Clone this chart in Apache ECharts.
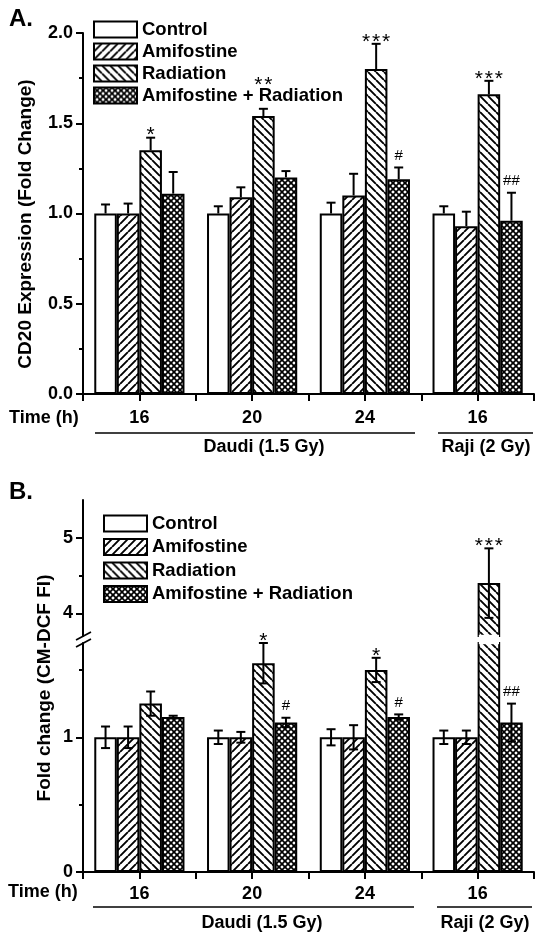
<!DOCTYPE html>
<html><head><meta charset="utf-8">
<script src="https://cdn.jsdelivr.net/npm/echarts@6/dist/echarts.min.js"></script>
<style>html,body{margin:0;padding:0;background:#fff}#c{width:542px;height:938px}</style>
</head><body><div id="c"></div>
<script>
const categories = ['16', '20', '24', '16'];
const seriesNames = ['Control', 'Amifostine', 'Radiation', 'Amifostine + Radiation'];

// Panel A: CD20 expression (fold change)
const aControl = [1.00, 1.00, 1.00, 1.00];
const aControlErr = [0.05, 0.04, 0.06, 0.04];
const aAmifostine = [1.00, 1.09, 1.10, 0.93];
const aAmifostineErr = [0.055, 0.055, 0.12, 0.08];
const aRadiation = [1.35, 1.54, 1.80, 1.66];
const aRadiationErr = [0.07, 0.04, 0.14, 0.075];
const aCombo = [1.11, 1.20, 1.19, 0.96];
const aComboErr = [0.12, 0.035, 0.065, 0.155];
const aRadiationSig = ['*', '**', '***', '***'];
const aComboSig = ['', '', '#', '##'];

// Panel B: fold change (CM-DCF FI)
const bControl = [1.00, 1.00, 1.00, 1.00];
const bControlErr = [0.08, 0.05, 0.06, 0.05];
const bAmifostine = [1.00, 1.00, 1.00, 1.00];
const bAmifostineErr = [0.08, 0.04, 0.09, 0.05];
const bRadiation = [1.25, 1.55, 1.50, 4.40];
const bRadiationErr = [0.09, 0.15, 0.09, 0.46];
const bCombo = [1.15, 1.11, 1.15, 1.11];
const bComboErr = [0.01, 0.035, 0.02, 0.14];
const bRadiationSig = ['', '*', '*', '***'];
const bComboSig = ['', '#', '#', '##'];

// axis tick values
const yTicksBLower = [0, 1];
const yMinorBLower = [0.5, 1.5];
const yTicksBUpper = [4, 5];
const yMinorBUpper = [4.5];
const bLowerMax = 1.7, bUpperMin = 3.7, bUpperMax = 5.5;

const FONT = '"Liberation Sans", Arial, Helvetica, sans-serif';

function hatch(kind) {
  const s = kind === 'cross' ? 6 : 8;
  const c = document.createElement('canvas'); c.width = s; c.height = s;
  const g = c.getContext('2d');
  g.fillStyle = '#fff'; g.fillRect(0, 0, s, s);
  g.strokeStyle = '#000'; g.lineWidth = kind === 'cross' ? 1.7 : 1.9;
  g.beginPath();
  if (kind === 'fwd' || kind === 'cross') for (const o of [-s, 0, s]) { g.moveTo(o, s); g.lineTo(o + s, 0); }
  if (kind === 'back' || kind === 'cross') for (const o of [-s, 0, s]) { g.moveTo(o, 0); g.lineTo(o + s, s); }
  g.stroke();
  return { image: c, repeat: 'repeat' };
}
const fills = ['#ffffff', hatch('fwd'), hatch('back'), hatch('cross')];

const axisTxt = { color: '#000', fontWeight: 'bold', fontSize: 18, fontFamily: FONT };
const lineBlack = { color: '#000', width: 2 };

function barSeries(xi, yi, k, vals) {
  return {
    type: 'bar', name: seriesNames[k], xAxisIndex: xi, yAxisIndex: yi,
    data: vals, barGap: '0%', barCategoryGap: '20%', z: 2,
    itemStyle: { color: fills[k], borderColor: '#000', borderWidth: 2 },
    emphasis: { disabled: true }
  };
}

function barX(api, cat, v, k) {
  const band = api.size([1, 0])[0];
  const bw = band * 0.8 / 4;
  const base = api.coord([cat, v]);
  return { x: base[0] + (k - 1.5) * bw, y: base[1], bw: bw };
}

// extra lift (px) for a significance mark that sits above the legend text
function sigLift(panel, k, i) { return (panel === 'A' && k === 2 && i === 1) ? 22 : 0; }

function errSeries(panel, xi, yi, k, vals, errs, sigs, both, keep) {
  const items = [], sig = [], idx = [];
  vals.forEach((v, i) => { if (keep(v)) { items.push([i, v, errs[i]]); sig.push(sigs ? sigs[i] : ''); idx.push(i); } });
  return {
    type: 'custom', xAxisIndex: xi, yAxisIndex: yi, z: 5, silent: true, data: items,
    renderItem(params, api) {
      const cat = api.value(0), v = api.value(1), e = api.value(2);
      const p = barX(api, cat, v, k), x = p.x;
      const yT = api.coord([cat, v + e])[1];
      const yB = both ? api.coord([cat, v - e])[1] : p.y;
      const cw = 9;
      const st = { stroke: '#000', lineWidth: 2 };
      const ch = [
        { type: 'line', shape: { x1: x, y1: yT, x2: x, y2: yB }, style: st },
        { type: 'line', shape: { x1: x - cw / 2, y1: yT, x2: x + cw / 2, y2: yT }, style: st }
      ];
      if (both) ch.push({ type: 'line', shape: { x1: x - cw / 2, y1: yB, x2: x + cw / 2, y2: yB }, style: st });
      const t = sig[params.dataIndex];
      if (t) {
        const hash = t[0] === '#';
        const lift = sigLift(panel, k, idx[params.dataIndex]);
        const chars = hash ? [t] : t.split('');
        const step = hash ? 0 : 10;
        chars.forEach((c, j) => {
          ch.push({ type: 'text', style: {
            text: c, x: x + (j - (chars.length - 1) / 2) * step, y: (hash ? yT - 12 : yT - 2) - lift,
            textAlign: 'center', align: 'center', textVerticalAlign: 'middle', verticalAlign: 'middle',
            font: (hash ? '15px ' : '21px ') + FONT, fill: '#000' } });
        });
      }
      return { type: 'group', children: ch };
    }
  };
}

// hides the clip edge of a bar that runs through the axis break
function breakMask(xi, yi, k, vals, bound, keep) {
  const items = [];
  vals.forEach((v, i) => { if (keep(v)) items.push([i, v]); });
  return {
    type: 'custom', xAxisIndex: xi, yAxisIndex: yi, z: 4, silent: true, data: items,
    renderItem(params, api) {
      const cat = api.value(0);
      const p = barX(api, cat, bound, k);
      return { type: 'line', shape: { x1: p.x - p.bw / 2 + 1.2, y1: p.y, x2: p.x + p.bw / 2 - 1.2, y2: p.y },
        style: { stroke: '#fff', lineWidth: 2.4 } };
    }
  };
}

function catAxis(grid, showLabel, center, show, margin) {
  return {
    type: 'category', gridIndex: grid, data: categories, position: 'bottom', show: show !== false,
    axisLine: { show: !center, lineStyle: lineBlack },
    axisTick: { show: true, alignWithLabel: center, length: 7, lineStyle: lineBlack },
    axisLabel: Object.assign({ show: showLabel, interval: 0, margin: margin || 12 }, axisTxt),
    splitLine: { show: false }
  };
}
function valAxis(grid, min, max, opts) {
  return Object.assign({
    type: 'value', gridIndex: grid, min: min, max: max, position: 'left',
    axisLine: { show: true, lineStyle: lineBlack },
    axisTick: { show: true, length: 7, lineStyle: lineBlack },
    axisLabel: Object.assign({ margin: 10 }, axisTxt),
    splitLine: { show: false }
  }, opts);
}

const bLowKeep = v => v <= bLowerMax;
const bUpKeep = v => v >= bUpperMin;
const aVals = [aControl, aAmifostine, aRadiation, aCombo];
const aErrs = [aControlErr, aAmifostineErr, aRadiationErr, aComboErr];
const aSigs = [null, null, aRadiationSig, aComboSig];
const bVals = [bControl, bAmifostine, bRadiation, bCombo];
const bErrs = [bControlErr, bAmifostineErr, bRadiationErr, bComboErr];
const bSigs = [null, null, bRadiationSig, bComboSig];

const series = [];
for (let k = 0; k < 4; k++) series.push(barSeries(0, 0, k, aVals[k]));
for (let k = 0; k < 4; k++) series.push(barSeries(2, 1, k, bVals[k].map(v => bUpKeep(v) ? v : '-')));
for (let k = 0; k < 4; k++) series.push(barSeries(3, 3, k, bVals[k]));
for (let k = 0; k < 4; k++) series.push(errSeries('A', 0, 0, k, aVals[k], aErrs[k], aSigs[k], false, () => true));
for (let k = 0; k < 4; k++) series.push(errSeries('B', 2, 1, k, bVals[k], bErrs[k], bSigs[k], true, bUpKeep));
for (let k = 0; k < 4; k++) series.push(errSeries('B', 3, 3, k, bVals[k], bErrs[k], bSigs[k], true, bLowKeep));
for (let k = 0; k < 4; k++) {
  series.push(breakMask(2, 1, k, bVals[k], bUpperMin, bUpKeep));
  series.push(breakMask(3, 3, k, bVals[k], bLowerMax, v => v > bLowerMax));
}

function txt(text, x, y, size, o) {
  o = o || {};
  return { type: 'text', x: x, y: y, rotation: o.rot || 0, silent: true, z: 10,
    style: { text: text, x: 0, y: 0, font: (o.weight || 'bold') + ' ' + size + 'px ' + FONT, fill: '#000',
      textAlign: o.align || 'left', align: o.align || 'left', textVerticalAlign: 'middle', verticalAlign: 'middle' } };
}
function ln(x1, y1, x2, y2, w) {
  return { type: 'line', silent: true, z: 10, shape: { x1, y1, x2, y2 }, style: { stroke: '#000', lineWidth: w || 1.5 } };
}

const legendBase = {
  orient: 'vertical', data: seriesNames, itemWidth: 43, itemHeight: 16, icon: 'rect',
  selectedMode: false,
  itemStyle: { borderColor: '#000', borderWidth: 2 },
  textStyle: { color: '#000', fontWeight: 'bold', fontSize: 18.5, fontFamily: FONT }, padding: 0
};

const option = {
  animation: false,
  backgroundColor: '#fff',
  textStyle: { fontFamily: FONT },
  legend: [
    Object.assign({}, legendBase, { left: 93, top: 20, itemGap: 3 }),
    Object.assign({}, legendBase, { left: 103, top: 514, itemGap: 4.5 })
  ],
  grid: [
    { left: 83, right: 8, top: 33, height: 361, containLabel: false, outerBoundsMode: 'none' },
    { left: 83, right: 8, top: 500, height: 136, containLabel: false, outerBoundsMode: 'none' },
    { left: 83, right: 8, top: 643, height: 229, containLabel: false, outerBoundsMode: 'none' }
  ],
  xAxis: [
    catAxis(0, true, false, true, 15),
    catAxis(0, false, true),
    catAxis(1, false, false, false),
    catAxis(2, true, false, true, 13),
    catAxis(2, false, true)
  ],
  yAxis: [
    valAxis(0, 0, 2, { interval: 0.5, minorTick: { show: true, splitNumber: 2, length: 4, lineStyle: lineBlack },
      axisLabel: Object.assign({ margin: 10, formatter: v => v.toFixed(1) }, axisTxt) }),
    valAxis(1, bUpperMin, bUpperMax, {
      axisLabel: Object.assign({ margin: 10, customValues: yTicksBUpper }, axisTxt),
      axisTick: { show: true, length: 7, customValues: yTicksBUpper, lineStyle: lineBlack } }),
    valAxis(1, bUpperMin, bUpperMax, { axisLine: { show: false }, axisLabel: { show: false },
      axisTick: { show: true, length: 4, customValues: yMinorBUpper, lineStyle: lineBlack } }),
    valAxis(2, 0, bLowerMax, {
      axisLabel: Object.assign({ margin: 10, customValues: yTicksBLower }, axisTxt),
      axisTick: { show: true, length: 7, customValues: yTicksBLower, lineStyle: lineBlack } }),
    valAxis(2, 0, bLowerMax, { axisLine: { show: false }, axisLabel: { show: false },
      axisTick: { show: true, length: 4, customValues: yMinorBLower, lineStyle: lineBlack } })
  ],
  graphic: [
    txt('A.', 9, 19, 24),
    txt('B.', 9, 492, 24),
    txt('CD20 Expression (Fold Change)', 26, 224, 19, { rot: Math.PI / 2, align: 'center' }),
    txt('Fold change (CM-DCF FI)', 45, 688, 19, { rot: Math.PI / 2, align: 'center' }),
    txt('Time (h)', 9, 418, 18),
    txt('Time (h)', 8, 892, 18),
    ln(95, 433, 415, 433), ln(438, 433, 533, 433),
    txt('Daudi (1.5 Gy)', 264, 447, 18, { align: 'center' }),
    txt('Raji (2 Gy)', 486, 447, 18, { align: 'center' }),
    ln(93, 907, 414, 907), ln(437, 907, 532, 907),
    txt('Daudi (1.5 Gy)', 262, 923, 18, { align: 'center' }),
    txt('Raji (2 Gy)', 485, 923, 18, { align: 'center' }),
    ln(76, 640, 91, 632, 1.6), ln(76, 647, 91, 639, 1.6)
  ],
  series: series
};

const chart = echarts.init(document.getElementById('c'), null, { renderer: 'canvas' });
chart.setOption(option);
</script>
</body></html>
